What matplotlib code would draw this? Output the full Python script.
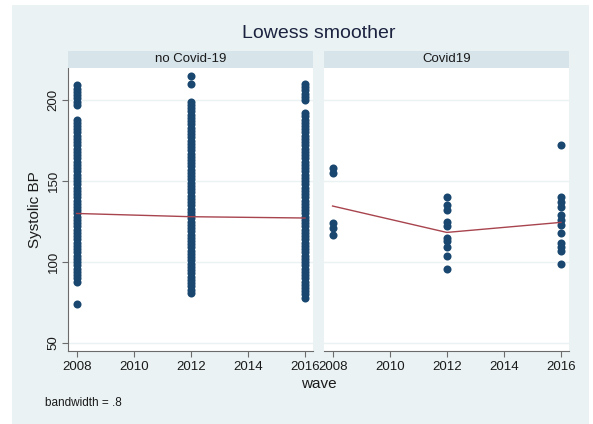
"""Lowess smoother of systolic BP by survey wave, split by Covid-19 status."""

import matplotlib

matplotlib.use("Agg")
import matplotlib.pyplot as plt
import matplotlib.patches as mpatches

plt.rcParams["font.family"] = ["Liberation Sans", "DejaVu Sans"]

# Observed systolic BP per wave, no Covid-19 group (overlapping values collapsed)
no_covid_2008 = [
    74, 88, 90, 92, 94, 96, 98, 100, 102, 104, 106, 108, 110, 112, 114, 116,
    118, 120, 122, 124, 126, 128, 130, 132, 134, 136, 138, 140, 142, 144, 146,
    148, 150, 152, 154, 156, 158, 160, 162, 164, 166, 168, 170, 172, 174, 176,
    178, 180, 182, 184, 186, 188, 197, 199, 201, 203, 205, 207, 209,
]
no_covid_2012 = [
    81, 83, 85, 87, 89, 91, 93, 95, 97, 99, 101, 103, 105, 107, 109, 111, 113,
    115, 117, 119, 121, 123, 125, 127, 129, 131, 133, 135, 137, 139, 141, 143,
    145, 147, 149, 151, 153, 155, 157, 159, 161, 163, 165, 167, 169, 171, 173,
    175, 177, 179, 181, 183, 185, 187, 189, 191, 193, 195, 197, 199, 210, 215,
]
no_covid_2016 = [
    78, 80, 82, 84, 86, 88, 90, 92, 94, 96, 98, 100, 102, 104, 106, 108, 110,
    112, 114, 116, 118, 120, 122, 124, 126, 128, 130, 132, 134, 136, 138, 140,
    142, 144, 146, 148, 150, 152, 154, 156, 158, 160, 162, 164, 166, 168, 170,
    172, 174, 176, 178, 180, 182, 184, 186, 188, 190, 192, 200, 202, 204, 206,
    208, 210,
]

# Covid19 group
covid_2008 = [117, 121, 124, 155, 158]
covid_2012 = [96, 104, 109, 113, 115, 122, 125, 132, 135, 140]
covid_2016 = [99, 107, 109, 112, 118, 123, 126, 129, 134, 137, 140, 172]

waves = [2008, 2012, 2016]
lowess_no_covid = [130.0, 128.0, 127.2]
lowess_covid = [134.6, 118.3, 124.5]

panels = [
    ("no Covid-19", [no_covid_2008, no_covid_2012, no_covid_2016], lowess_no_covid),
    ("Covid19", [covid_2008, covid_2012, covid_2016], lowess_covid),
]

BG = "#eaf2f3"
STRIP = "#d7e4ea"
NAVY = "#1a476f"
MAROON = "#a8444e"
AXIS = "#6b6b6b"
TEXT = "#1a1a1a"

W, H = 593, 424
fig = plt.figure(figsize=(W / 100, H / 100), dpi=100)
fig.patch.set_facecolor("white")

# light graph region, leaving a thin white border
fig.patches.append(
    mpatches.Rectangle(
        (12 / W, 0), (589 - 12) / W, 1 - 5 / H,
        transform=fig.transFigure, facecolor=BG, edgecolor="none", zorder=-5,
    )
)

ax_bottom = 1 - 351 / H
ax_height = (351 - 68) / H
lefts = [68, 324]
width = 245

for i, (title, columns, fit) in enumerate(panels):
    ax = fig.add_axes([lefts[i] / W, ax_bottom, width / W, ax_height])
    ax.set_facecolor("white")

    for wave, vals in zip(waves, columns):
        ax.plot([wave] * len(vals), vals, "o", color=NAVY, ms=5.8,
                mec="none", zorder=3)
    ax.plot(waves, fit, color=MAROON, lw=1.0, zorder=4)

    ax.set_xlim(2007.7, 2016.28)
    ax.set_ylim(45.1, 219.8)
    ax.set_xticks([2008, 2010, 2012, 2014, 2016])
    ax.set_yticks([50, 100, 150, 200])
    ax.yaxis.grid(True, color=BG, lw=1.0)
    ax.set_axisbelow(True)

    for side in ("top", "right"):
        ax.spines[side].set_visible(False)
    ax.spines["bottom"].set_color(AXIS)
    ax.spines["bottom"].set_linewidth(0.8)
    ax.tick_params(axis="x", length=4, width=0.8, color=AXIS,
                   labelsize=9.5, labelcolor=TEXT, pad=3)
    if i == 0:
        ax.spines["left"].set_color(AXIS)
        ax.spines["left"].set_linewidth(0.8)
        ax.tick_params(axis="y", length=4, width=0.8, color=AXIS,
                       labelsize=9.5, labelcolor=TEXT, pad=2)
        for lab in ax.get_yticklabels():
            lab.set_rotation(90)
            lab.set_va("center")
    else:
        ax.spines["left"].set_visible(False)
        ax.tick_params(axis="y", left=False, labelleft=False)

    # panel header strip
    strip = fig.add_axes([lefts[i] / W, 1 - 68 / H, width / W, 17 / H])
    strip.set_facecolor(STRIP)
    strip.set_xticks([])
    strip.set_yticks([])
    for sp in strip.spines.values():
        sp.set_visible(False)
    strip.text(0.5, 0.5, title, ha="center", va="center", fontsize=9.5,
               color=TEXT, transform=strip.transAxes)

fig.text(318.5 / W, 1 - 33 / H, "Lowess smoother", ha="center", va="center",
         fontsize=14, color="#1c2340")
fig.text(318.5 / W, 1 - 384 / H, "wave", ha="center", va="center",
         fontsize=11, color=TEXT)
fig.text(35 / W, 1 - 210 / H, "Systolic BP", ha="center", va="center",
         rotation=90, fontsize=11, color=TEXT)
fig.text(45 / W, 1 - 403 / H, "bandwidth = .8", ha="left", va="center",
         fontsize=8.5, color=TEXT)

fig.savefig("out.png", dpi=100, facecolor=fig.get_facecolor())
